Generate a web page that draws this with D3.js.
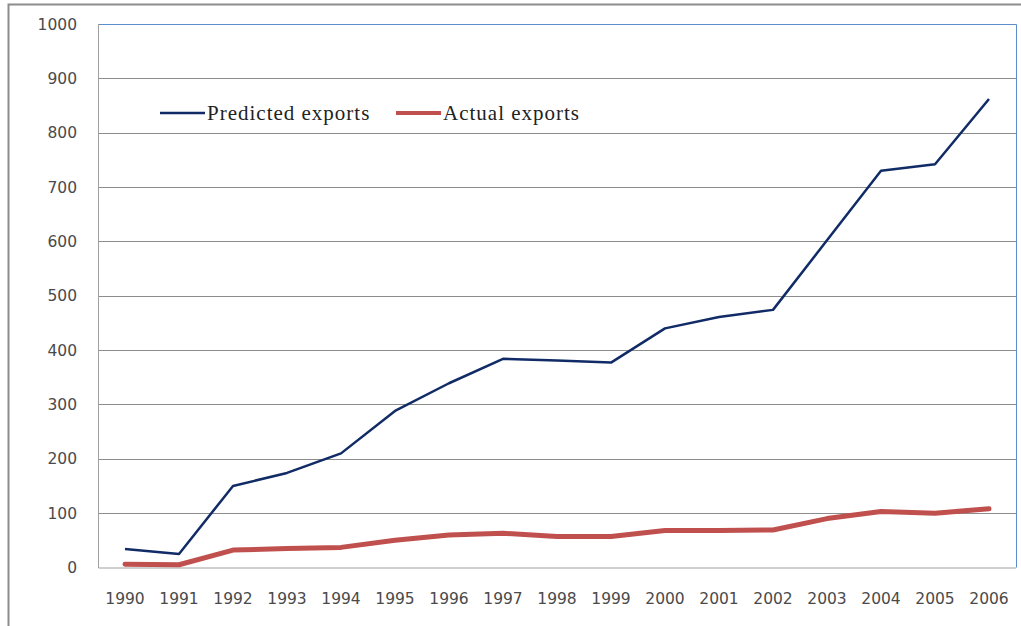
<!DOCTYPE html>
<html>
<head>
<meta charset="utf-8">
<script src="https://cdn.jsdelivr.net/npm/d3@7"></script>
<style>
  body { margin: 0; background: #fff; }
  svg { display: block; }
</style>
</head>
<body>
<svg id="chart" width="1021" height="626"></svg>
<script>
const years = ["1990","1991","1992","1993","1994","1995","1996","1997","1998","1999","2000","2001","2002","2003","2004","2005","2006"];
const predicted = [34, 25, 150, 174, 210, 288, 339, 384, 381, 377, 440, 461, 474, 602, 730, 742, 862];
const actual = [6, 5, 32, 35, 37, 50, 60, 63, 57, 57, 68, 68, 69, 90, 103, 100, 108];
const yTicks = [0, 100, 200, 300, 400, 500, 600, 700, 800, 900, 1000];

const svg = d3.select("#chart");
const plotLeft = 98, plotRight = 1016, plotTop = 24, plotBottom = 567.5;

// outer frame
svg.append("rect")
  .attr("x", 8.5).attr("y", 4.5)
  .attr("width", 1030).attr("height", 640)
  .attr("fill", "none").attr("stroke", "#8c8c8c").attr("stroke-width", 2);

let x = d3.scaleBand().domain(years).range([plotLeft, plotRight]);
let y = d3.scaleLinear().domain([0, 1000]).range([plotBottom, plotTop]);

// gridlines
svg.append("g")
  .selectAll("line")
  .data(yTicks.filter(d => d > 0 && d < 1000))
  .enter().append("line")
  .attr("x1", plotLeft).attr("x2", plotRight)
  .attr("y1", d => Math.round(y(d)) + 0.5).attr("y2", d => Math.round(y(d)) + 0.5)
  .attr("stroke", "#8c8c8c");

// plot border: top/right blue, left/bottom gray
svg.append("path")
  .attr("d", `M${plotLeft},${plotTop + 0.5}H${plotRight + 0.5}V${plotBottom}`)
  .attr("fill", "none").attr("stroke", "#5b8ccc");
svg.append("path")
  .attr("d", `M${plotLeft + 0.5},${plotTop}V${plotBottom + 0.5}H${plotRight}`)
  .attr("fill", "none").attr("stroke", "#a0a0a0");

// y labels
svg.append("g")
  .selectAll("text")
  .data(yTicks)
  .enter().append("text")
  .attr("x", 77).attr("y", d => y(d))
  .attr("dy", "0.36em")
  .attr("text-anchor", "end")
  .attr("font-family", "DejaVu Sans, sans-serif")
  .attr("font-size", 15.5)
  .attr("fill", "#4a4a4a")
  .text(d => d);

// x labels
svg.append("g")
  .selectAll("text")
  .data(years)
  .enter().append("text")
  .attr("x", d => x(d) + x.bandwidth() / 2)
  .attr("y", 604)
  .attr("text-anchor", "middle")
  .attr("font-family", "DejaVu Sans, sans-serif")
  .attr("font-size", 15.5)
  .attr("fill", "#4a4a4a")
  .text(d => d);

let line = d3.line()
  .x((d, i) => x(years[i]) + x.bandwidth() / 2)
  .y(d => y(d));

svg.append("path")
  .datum(actual)
  .attr("d", line)
  .attr("fill", "none")
  .attr("stroke", "#c0504d")
  .attr("stroke-width", 5)
  .attr("stroke-linecap", "round")
  .attr("stroke-linejoin", "round");

svg.append("path")
  .datum(predicted)
  .attr("d", line)
  .attr("fill", "none")
  .attr("stroke", "#112b66")
  .attr("stroke-width", 2.5)
  .attr("stroke-linejoin", "round");

// legend
const legend = [
  {name: "Predicted exports", color: "#112b66", w: 2.5, x0: 160},
  {name: "Actual exports", color: "#c0504d", w: 4, x0: 396}
];
let lg = svg.append("g").selectAll("g").data(legend).enter().append("g");
lg.append("line")
  .attr("x1", d => d.x0).attr("x2", d => d.x0 + 45)
  .attr("y1", 113).attr("y2", 113)
  .attr("stroke", d => d.color).attr("stroke-width", d => d.w);
lg.append("text")
  .attr("x", d => d.x0 + 47).attr("y", 113)
  .attr("dy", "0.33em")
  .attr("font-family", "Liberation Serif, serif")
  .attr("font-size", 21)
  .attr("letter-spacing", 1)
  .attr("fill", "#222")
  .text(d => d.name);
</script>
</body>
</html>
